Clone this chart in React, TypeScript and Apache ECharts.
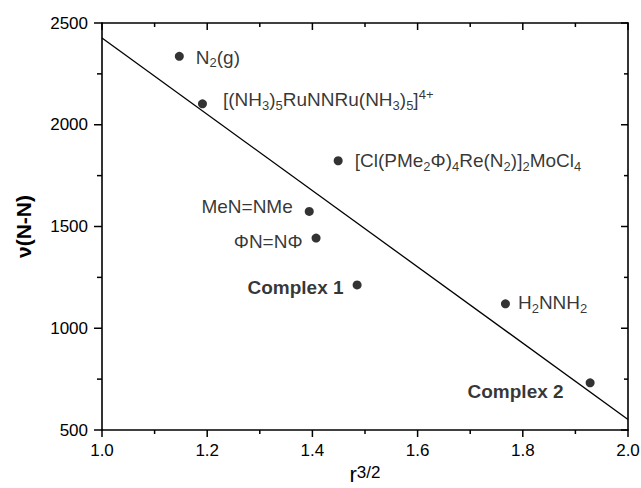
import React, { useEffect, useRef } from "react";
import * as echarts from "echarts";

const xTicks = [1.0, 1.2, 1.4, 1.6, 1.8, 2.0];
const yTicks = [500, 1000, 1500, 2000, 2500];

const compoundLabels = [
  "N{sub|2}(g)",
  "[(NH{sub|3}){sub|5}RuNNRu(NH{sub|3}){sub|5}]{sup|4+}",
  "[Cl(PMe{sub|2}Φ){sub|4}Re(N{sub|2})]{sub|2}MoCl{sub|4}",
  "MeN=NMe",
  "ΦN=NΦ",
  "{b|Complex 1}",
  "H{sub|2}NNH{sub|2}",
  "{b|Complex 2}",
];
const rValues = [1.147, 1.191, 1.449, 1.394, 1.407, 1.485, 1.767, 1.928];
const nuValues = [2336, 2103, 1823, 1574, 1443, 1213, 1120, 732];
const labelSide = ["right", "right", "right", "left", "left", "left", "right", "left"];
const labelDist = [12, 16, 12, 12, 9, 9, 8, 22];
const labelDy = [1, -4, 0, -5, 3, 3, -1, 9];

const fitX = [1.0, 2.0];
const fitY = [2426, 552];

const FONT = "Liberation Sans, Arial, sans-serif";

function withMinor(ticks: number[]): number[][] {
  const out: number[][] = [];
  ticks.forEach((t, i) => {
    out.push([t, 1]);
    if (i < ticks.length - 1) out.push([(t + ticks[i + 1]) / 2, 0]);
  });
  return out;
}

export default function App() {
  const ref = useRef<HTMLDivElement>(null);
  useEffect(() => {
    if (!ref.current) return;
    const chart = echarts.init(ref.current, null, { renderer: "svg" });
    const rich = {
      sub: { fontSize: 13, verticalAlign: "bottom", lineHeight: 12, fontFamily: FONT, color: "#000" },
      sup: { fontSize: 13, verticalAlign: "top", lineHeight: 12, fontFamily: FONT, color: "#000" },
      b: { fontSize: 19, fontWeight: "bold", fontFamily: FONT, color: "#000", lineHeight: 24 },
    };
    const pts = rValues.map((x, i) => ({
      value: [x, nuValues[i]],
      label: {
        show: true,
        position: labelSide[i],
        distance: labelDist[i],
        offset: [0, labelDy[i]],
        formatter: compoundLabels[i],
      },
    }));
    const lineStyle = { color: "#000", width: 1.6 };
    const xMin = xTicks[0];
    const xMax = xTicks[xTicks.length - 1];
    const yMin = yTicks[0];
    const yMax = yTicks[yTicks.length - 1];
    const tickStroke = { stroke: "#000", lineWidth: 1.5 };

    const xTickData = withMinor(xTicks).map((d) => [d[0], yMin, d[1]]);
    const yTickData = withMinor(yTicks).map((d) => [xMin, d[0], d[1]]);

    chart.setOption({
      animation: false,
      backgroundColor: "#fff",
      grid: { left: 102, right: 13, top: 23, bottom: 58, outerBoundsMode: "none", containLabel: false },
      xAxis: [
        {
          type: "value",
          min: xMin,
          max: xMax,
          interval: 0.2,
          position: "bottom",
          axisLine: { show: true, onZero: false, lineStyle },
          splitLine: { show: false },
          axisTick: { show: false },
          minorTick: { show: false },
          axisLabel: {
            show: true,
            margin: 12,
            fontSize: 17,
            color: "#000",
            fontFamily: FONT,
            formatter: (v: number) => v.toFixed(1),
          },
          name: "{r|r}{sup|3/2}",
          nameLocation: "middle",
          nameGap: 33,
          nameTextStyle: {
            rich: {
              r: { fontSize: 22, fontFamily: FONT, color: "#000", verticalAlign: "bottom", lineHeight: 22 },
              sup: { fontSize: 17, fontFamily: FONT, color: "#000", verticalAlign: "top", lineHeight: 14 },
            },
          },
        },
        {
          type: "value",
          min: xMin,
          max: xMax,
          interval: 0.2,
          position: "top",
          axisLine: { show: true, onZero: false, lineStyle },
          splitLine: { show: false },
          axisTick: { show: false },
          axisLabel: { show: false },
        },
      ],
      yAxis: [
        {
          type: "value",
          min: yMin,
          max: yMax,
          interval: 500,
          position: "left",
          axisLine: { show: true, onZero: false, lineStyle },
          splitLine: { show: false },
          axisTick: { show: false },
          minorTick: { show: false },
          axisLabel: {
            show: true,
            margin: 14,
            fontSize: 17,
            color: "#000",
            fontFamily: FONT,
            formatter: (v: number) => String(v),
          },
          name: "ν(N-N)",
          nameLocation: "middle",
          nameGap: 68,
          nameRotate: 90,
          nameTextStyle: { fontSize: 21, fontWeight: "bold", color: "#000", fontFamily: FONT },
        },
        {
          type: "value",
          min: yMin,
          max: yMax,
          interval: 500,
          position: "right",
          axisLine: { show: true, onZero: false, lineStyle },
          splitLine: { show: false },
          axisTick: { show: false },
          axisLabel: { show: false },
        },
      ],
      series: [
        {
          type: "custom",
          xAxisIndex: 0,
          yAxisIndex: 0,
          clip: false,
          silent: true,
          z: 10,
          data: xTickData,
          encode: { x: 0, y: 1 },
          renderItem: (params: any, api: any) => {
            const x = api.value(0);
            const major = api.value(2) === 1;
            const pb = api.coord([x, yMin]);
            const pt = api.coord([x, yMax]);
            const lenOut = major ? 7 : 4;
            const lenIn = major ? 7 : 4;
            return {
              type: "group",
              children: [
                { type: "line", shape: { x1: pb[0], y1: pb[1], x2: pb[0], y2: pb[1] + lenOut }, style: tickStroke },
                { type: "line", shape: { x1: pt[0], y1: pt[1], x2: pt[0], y2: pt[1] + lenIn }, style: tickStroke },
              ],
            };
          },
        },
        {
          type: "custom",
          xAxisIndex: 0,
          yAxisIndex: 0,
          clip: false,
          silent: true,
          z: 10,
          data: yTickData,
          encode: { x: 0, y: 1 },
          renderItem: (params: any, api: any) => {
            const y = api.value(1);
            const major = api.value(2) === 1;
            const pl = api.coord([xMin, y]);
            const pr = api.coord([xMax, y]);
            const lenOut = major ? 8 : 5;
            const lenIn = major ? 7 : 4;
            return {
              type: "group",
              children: [
                { type: "line", shape: { x1: pl[0], y1: pl[1], x2: pl[0] - lenOut, y2: pl[1] }, style: tickStroke },
                { type: "line", shape: { x1: pr[0], y1: pr[1], x2: pr[0] - lenIn, y2: pr[1] }, style: tickStroke },
              ],
            };
          },
        },
        {
          type: "line",
          data: fitX.map((x, i) => [x, fitY[i]]),
          symbol: "none",
          lineStyle: { color: "#000", width: 1.3 },
          silent: true,
        },
        {
          type: "scatter",
          data: pts,
          symbol: "circle",
          symbolSize: 9,
          itemStyle: { color: "#000" },
          label: {
            show: true,
            fontSize: 19,
            lineHeight: 24,
            color: "#000",
            fontFamily: FONT,
            rich,
          },
        },
      ],
    });
    return () => chart.dispose();
  }, []);
  return <div ref={ref} style={{ width: 641, height: 488, position: "absolute", left: 0, top: 0 }} />;
}
